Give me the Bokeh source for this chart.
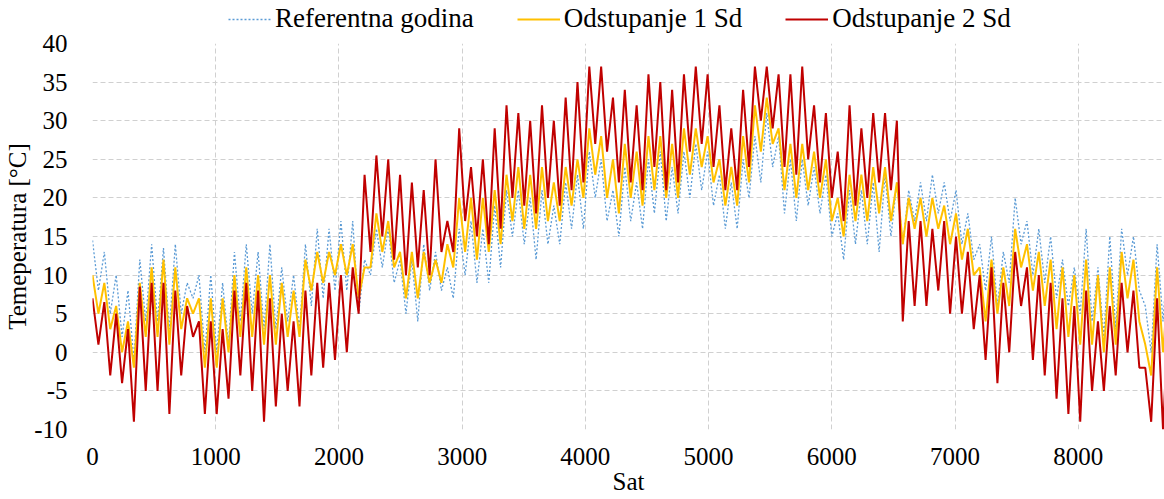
from bokeh.plotting import figure
from bokeh.layouts import column
from bokeh.models import Legend, LegendItem, Range1d, FixedTicker, PrintfTickFormatter
from bokeh.embed import file_html
from bokeh.resources import INLINE

# hour of year for each reading (alternating daily highs / lows)
hours = list(range(0, 8737, 48))

series_names = ["Referentna godina", "Odstupanje 1 Sd", "Odstupanje 2 Sd"]
series_colors = ["#5B9BD5", "#FFC000", "#C00000"]

ref = [14.5, 8, 13, 5, 10, 2, 8, -1, 12, 4,
       14, 4, 13.5, 3, 14, 5, 9, 7, 10, 0,
       10, 0, 9, 1, 13, 4, 14, 5, 13, 3,
       14, 3, 11, 4, 10, 3, 14, 6, 16, 7,
       16, 8, 17, 8, 17, 5, 12, 10, 16, 11,
       16, 9, 12, 5, 12, 4, 14, 8, 13, 8,
       11, 7, 16, 10, 17, 9, 16, 9, 19, 11,
       21, 15, 21, 14, 20, 12, 21, 14, 19, 14,
       22, 16, 23, 16, 26, 20, 25, 17, 21, 15,
       24, 17, 22, 16, 25, 18, 26, 17, 24, 18,
       26, 20, 27, 21, 26, 19, 23, 16, 22, 16,
       25, 20, 28, 22, 31, 24, 28, 18, 25, 17,
       25, 19, 24, 18, 23, 15, 18, 12, 21, 14,
       21, 14, 22, 13, 23, 15, 22, 14, 21, 17,
       22, 17, 23, 18, 22, 17, 21, 14, 18, 12,
       14, 8, 15, 6, 13, 9, 20, 14, 17, 10,
       16, 9, 15, 7, 12, 6, 11, 5, 16, 4,
       11, 2, 15, 3, 16, 10, 15, 8, 6, 0,
       14, 4, 15]

sd1 = [10, 5, 9, 3, 6, 0, 4, -2, 9, 2,
       11, 2, 12, 1, 11, 3, 7, 5, 7, -2,
       7, -2, 7, 0, 10, 2, 11, 2, 10, 1,
       10, 1, 9, 2, 8, 2, 12, 8, 13, 9,
       13, 10, 14, 10, 14, 7, 11, 11, 18, 13,
       17, 11, 13, 7, 13, 7, 13, 9, 12, 9,
       14, 11, 20, 13, 20, 12, 20, 13, 21, 14,
       23, 17, 24, 16, 23, 16, 24, 17, 22, 17,
       24, 19, 25, 20, 29, 23, 28, 20, 25, 18,
       27, 20, 26, 19, 28, 21, 28, 20, 27, 20,
       29, 23, 29, 24, 28, 22, 25, 19, 24, 19,
       28, 22, 32, 26, 33, 27, 29, 21, 27, 20,
       27, 21, 26, 20, 25, 17, 20, 15, 23, 17,
       23, 17, 24, 18, 24, 17, 22, 14, 20, 16,
       20, 15, 20, 16, 19, 14, 18, 12, 16, 10,
       11, 4, 12, 5, 11, 6, 16, 11, 14, 8,
       13, 6, 12, 3, 11, 2, 10, 1, 12, 1,
       10, 0, 11, 1, 13, 7, 12, 4, 1, -3,
       11, 0, 10]

sd2 = [7, 1, 6.5, -3, 5, -4, 3, -9, 8.5, -5,
       9, -5, 9, -8, 8, -3, 6, 2, 4, -8,
       4, -8, 3, -6, 8, -3, 9, -5, 8, -9,
       7, -7, 5, -5, 4, -7, 8, -3, 9, -2,
       9, -1, 10, 0, 11, 5, 23, 13, 25.5, 15,
       25, 12, 23, 10, 22, 11, 21, 10, 25, 13,
       17, 13, 29, 17, 24, 15, 25, 14, 29, 16,
       32, 20, 31, 19, 30, 18, 32, 20, 30, 19,
       33, 21, 35, 22, 37, 27, 37, 26, 33, 22,
       34, 22, 32, 21, 36, 24, 35, 21, 34, 22,
       36, 26, 37, 27, 36, 24, 32, 21, 29, 21,
       34, 24, 37, 30, 37, 29, 36, 24, 36, 23,
       37, 25, 32, 22, 31, 20, 26, 17, 32, 19,
       29, 20, 31, 22, 31, 21, 30, 4, 17, 6,
       17, 6, 16, 8, 17, 5, 15, 5, 13, 3,
       10, -1, 11, -4, 9, 0, 13, 6, 11, -1,
       10, -3, 9, -6, 7, -8, 6, -9, 8, -5,
       4, -5, 6, -3, 9, 0, 8, -2, -2, -9,
       7, -10, 6]

x_ticks = [0, 1000, 2000, 3000, 4000, 5000, 6000, 7000, 8000]
y_ticks = [-10, -5, 0, 5, 10, 15, 20, 25, 30, 35, 40]

FONT = "Liberation Serif"
DASHES = ["2 2", "solid", "solid"]
WIDTHS = [1.3, 2, 2]
SERIES = [ref, sd1, sd2]

# ---------------- main chart ----------------
p = figure(width=1164, height=465, output_backend="svg", toolbar_location=None,
           x_range=Range1d(0, 8700), y_range=Range1d(-10, 40),
           min_border_left=92, min_border_right=0, min_border_top=9,
           min_border_bottom=70)
p.outline_line_color = None
p.background_fill_color = "white"

for ys, c, d, w in zip(SERIES, series_colors, DASHES, WIDTHS):
    p.line(hours, ys, line_color=c, line_width=w, line_dash=d)

for ax in (p.xaxis[0], p.yaxis[0]):
    ax.axis_line_color = None
    ax.major_tick_line_color = None
    ax.minor_tick_line_color = None
    ax.major_label_text_font = FONT
    ax.major_label_text_font_size = "25px"
    ax.major_label_text_color = "black"
    ax.axis_label_text_font = FONT
    ax.axis_label_text_font_size = "25px"
    ax.axis_label_text_font_style = "normal"
    ax.axis_label_text_color = "black"

p.xaxis.ticker = FixedTicker(ticks=x_ticks)
p.yaxis.ticker = FixedTicker(ticks=y_ticks)
p.yaxis.formatter = PrintfTickFormatter(format="%d")
p.xaxis.formatter = PrintfTickFormatter(format="%d")
p.xaxis.axis_label = "Sat"
p.yaxis.axis_label = "Temeperatura [°C]"
p.xaxis.major_label_standoff = 12
p.xaxis.axis_label_standoff = 0
p.yaxis.major_label_standoff = 19
p.yaxis.axis_label_standoff = 0

for g in (p.xgrid[0], p.ygrid[0]):
    g.grid_line_color = "#d0d0d0"
    g.grid_line_dash = "5 3"
    g.grid_line_width = 1
p.xgrid.ticker = FixedTicker(ticks=x_ticks)
p.ygrid.ticker = FixedTicker(ticks=y_ticks)

# ---------------- legend strip above the chart ----------------
# the same series are drawn here outside the visible range, only to feed the legend
lg = figure(width=1164, height=34, output_backend="svg", toolbar_location=None,
            x_range=Range1d(0, 8700), y_range=Range1d(-1000, -999),
            x_axis_location=None, y_axis_location=None,
            min_border_left=92, min_border_right=0, min_border_top=0,
            min_border_bottom=0)
lg.outline_line_color = None
lg.xgrid.visible = False
lg.ygrid.visible = False

items = []
for name, ys, c, d, w in zip(series_names, SERIES, series_colors, DASHES, WIDTHS):
    r = lg.line(hours, ys, line_color=c, line_width=w, line_dash=d)
    items.append(LegendItem(label=name, renderers=[r]))

legend = Legend(items=items, orientation="horizontal", location=(136, 0))
legend.label_text_font = FONT
legend.label_text_font_size = "27px"
legend.label_text_color = "black"
legend.glyph_width = 43
legend.label_standoff = 4
legend.spacing = 43
legend.margin = 0
legend.padding = 1
legend.border_line_color = None
legend.background_fill_alpha = 0
lg.add_layout(legend)

layout = column(lg, p, spacing=0)

open("out.html", "w").write(file_html(layout, INLINE))
